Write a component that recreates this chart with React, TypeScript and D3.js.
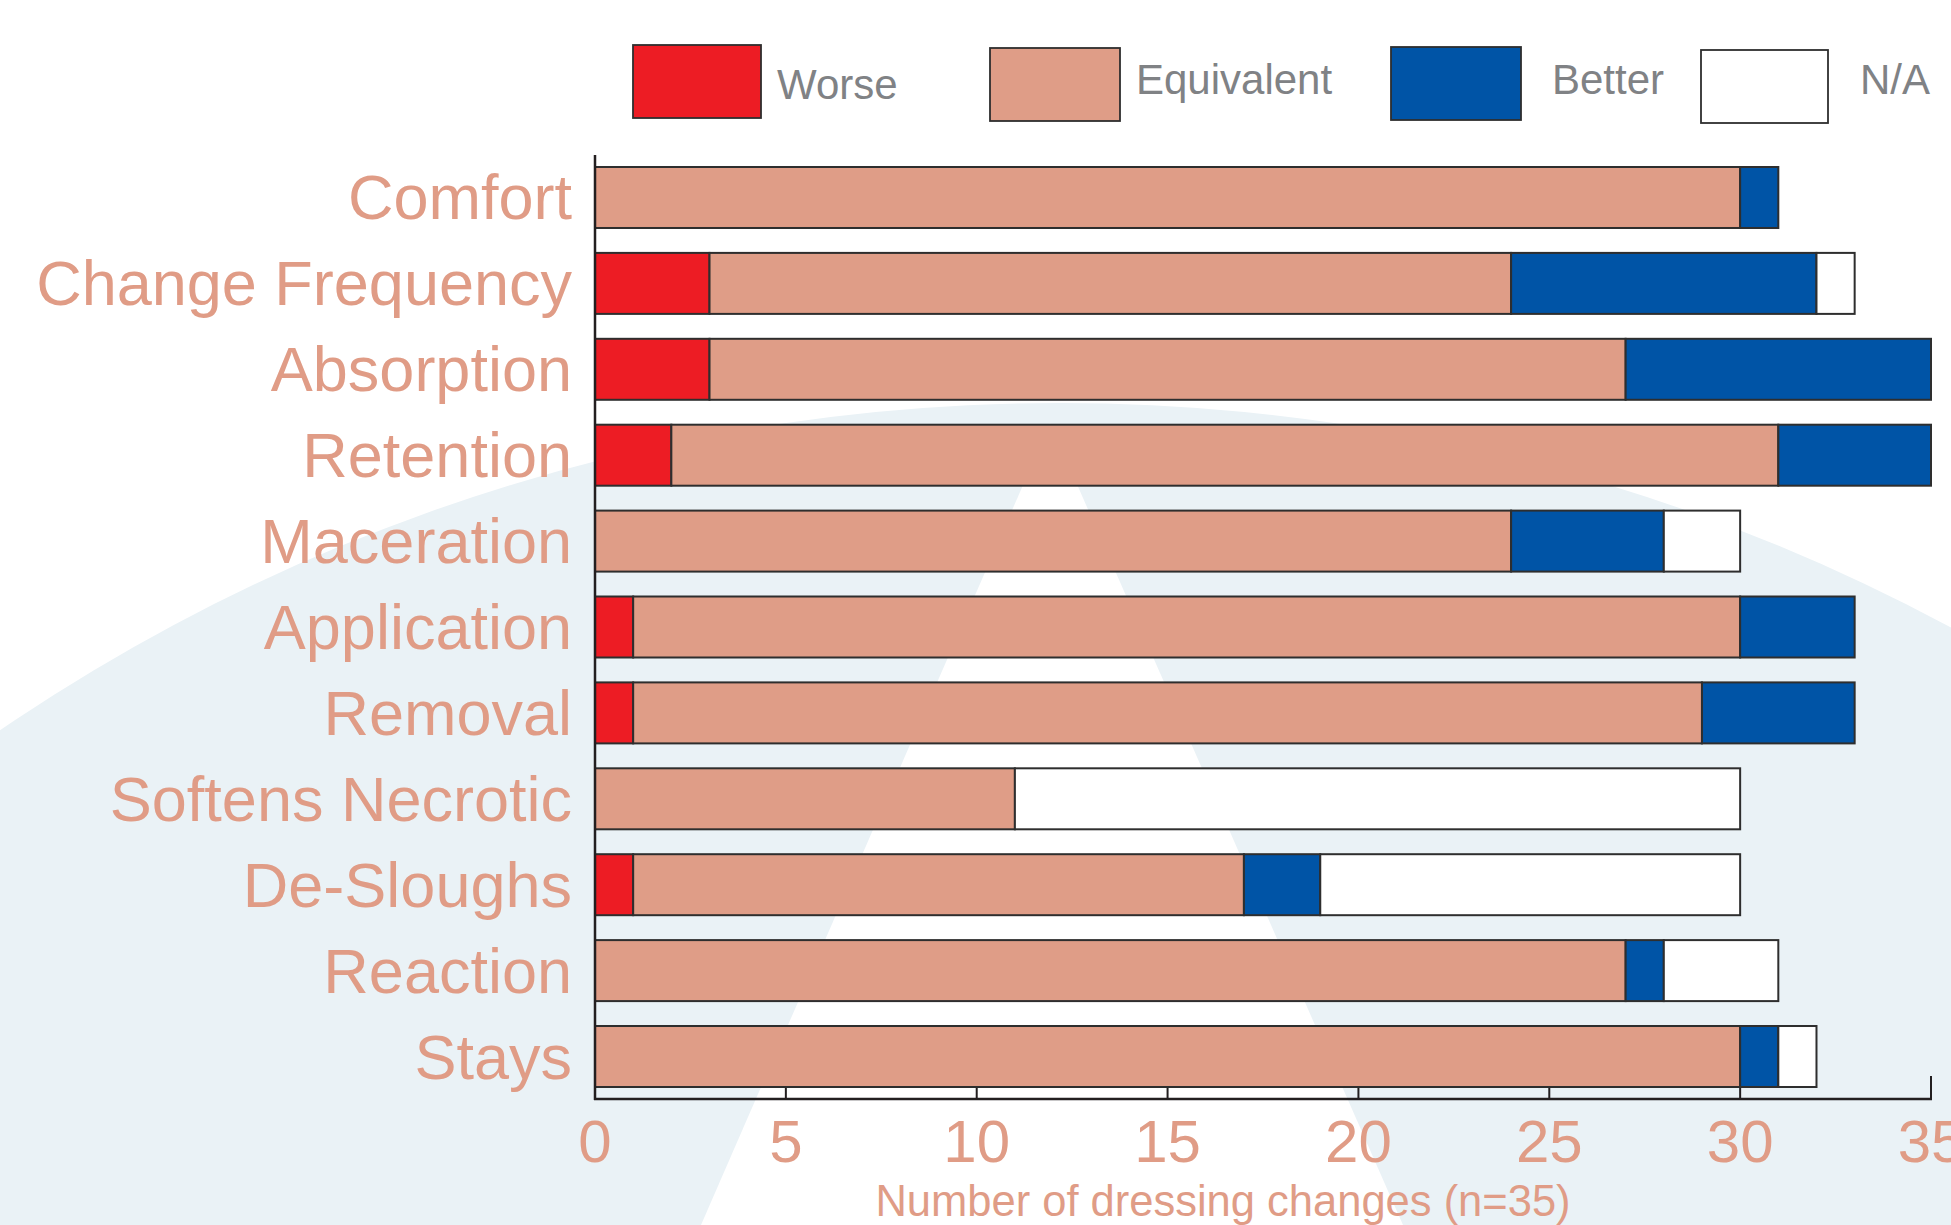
import * as d3 from 'd3'

const categories = [
  'Comfort',
  'Change Frequency',
  'Absorption',
  'Retention',
  'Maceration',
  'Application',
  'Removal',
  'Softens Necrotic',
  'De-Sloughs',
  'Reaction',
  'Stays',
]
const worse = [0, 3, 3, 2, 0, 1, 1, 0, 1, 0, 0]
const equivalent = [30, 21, 24, 29, 24, 29, 28, 11, 16, 27, 30]
const better = [1, 8, 8, 4, 4, 3, 4, 0, 2, 1, 1]
const notApplicable = [0, 1, 0, 0, 2, 0, 0, 19, 11, 3, 1]

const seriesKeys = ['worse', 'equivalent', 'better', 'na']
const seriesLabels = ['Worse', 'Equivalent', 'Better', 'N/A']
const xTicks = [0, 5, 10, 15, 20, 25, 30, 35]
const xTitle = 'Number of dressing changes (n=35)'

const colors: Record<string, string> = {
  worse: '#ED1C24',
  equivalent: '#DF9D87',
  better: '#0054A6',
  na: '#FFFFFF',
}

const legendLayout = [
  { x: 633, y: 45, w: 128, h: 73, tx: 777, ty: 99 },
  { x: 990, y: 48, w: 130, h: 73, tx: 1136, ty: 94 },
  { x: 1391, y: 47, w: 130, h: 73, tx: 1552, ty: 94 },
  { x: 1701, y: 50, w: 127, h: 73, tx: 1860, ty: 94 },
]

const W = 1951
const H = 1225
const FONT = '"Liberation Sans", Arial, Helvetica, sans-serif'
const SALMON = '#E09C86'
const INK = '#231F20'

export default function App() {
  const rows = categories.map((c, i) => ({
    category: c,
    worse: worse[i],
    equivalent: equivalent[i],
    better: better[i],
    na: notApplicable[i],
  }))

  const stack = d3.stack<any>().keys(seriesKeys)
  const layers = stack(rows)

  const x = d3.scaleLinear().domain([0, 35]).range([595, 1931])
  const y = d3
    .scaleBand()
    .domain(categories)
    .range([167, 1087])
    .paddingInner(0.29)
    .paddingOuter(0)

  const axisY = 1099
  const bw = y.bandwidth()

  return (
    <svg
      width={W}
      height={H}
      viewBox={`0 0 ${W} ${H}`}
      style={{ position: 'fixed', left: 0, top: 0, display: 'block', background: '#fff' }}
    >
      {/* background dome + road */}
      <rect x={0} y={0} width={W} height={H} fill="#fff" />
      <circle cx={1060} cy={2283} r={1880} fill="#EAF2F6" />
      <polygon points="1050,423 1403,1225 701,1225" fill="#fff" />

      {/* ticks, sitting under the bars */}
      {xTicks.slice(1).map((t) => (
        <line
          key={'tk' + t}
          x1={x(t)}
          x2={x(t)}
          y1={axisY}
          y2={axisY - 23}
          stroke={INK}
          strokeWidth={2}
        />
      ))}

      {/* bars */}
      {layers.map((layer) => (
        <g key={layer.key}>
          {layer.map((d, i) =>
            d[1] - d[0] > 0 ? (
              <rect
                key={i}
                x={x(d[0])}
                y={y(categories[i])}
                width={x(d[1]) - x(d[0])}
                height={bw}
                fill={colors[layer.key]}
                stroke="#2E2E2E"
                strokeWidth={2}
              />
            ) : null
          )}
        </g>
      ))}

      {/* axes */}
      <line x1={595} x2={595} y1={155} y2={axisY + 1} stroke={INK} strokeWidth={2.5} />
      <line x1={594} x2={x(35) + 1} y1={axisY} y2={axisY} stroke={INK} strokeWidth={2.5} />

      {/* category labels */}
      {categories.map((c) => (
        <text
          key={c}
          x={572}
          y={(y(c) || 0) + bw / 2 + 22}
          textAnchor="end"
          fontFamily={FONT}
          fontSize={63}
          fill={SALMON}
        >
          {c}
        </text>
      ))}

      {/* tick labels */}
      {xTicks.map((t) => (
        <text
          key={'tl' + t}
          x={x(t)}
          y={1162}
          textAnchor="middle"
          fontFamily={FONT}
          fontSize={60}
          fill={SALMON}
        >
          {t}
        </text>
      ))}

      <text x={1223} y={1216} textAnchor="middle" fontFamily={FONT} fontSize={43.5} fill={SALMON}>
        {xTitle}
      </text>

      {/* legend */}
      {seriesKeys.map((k, i) => {
        const L = legendLayout[i]
        return (
          <g key={'lg' + k}>
            <rect
              x={L.x}
              y={L.y}
              width={L.w}
              height={L.h}
              fill={colors[k]}
              stroke="#2E2E2E"
              strokeWidth={1.8}
            />
            <text x={L.tx} y={L.ty} fontFamily={FONT} fontSize={42} fill="#808285">
              {seriesLabels[i]}
            </text>
          </g>
        )
      })}
    </svg>
  )
}
